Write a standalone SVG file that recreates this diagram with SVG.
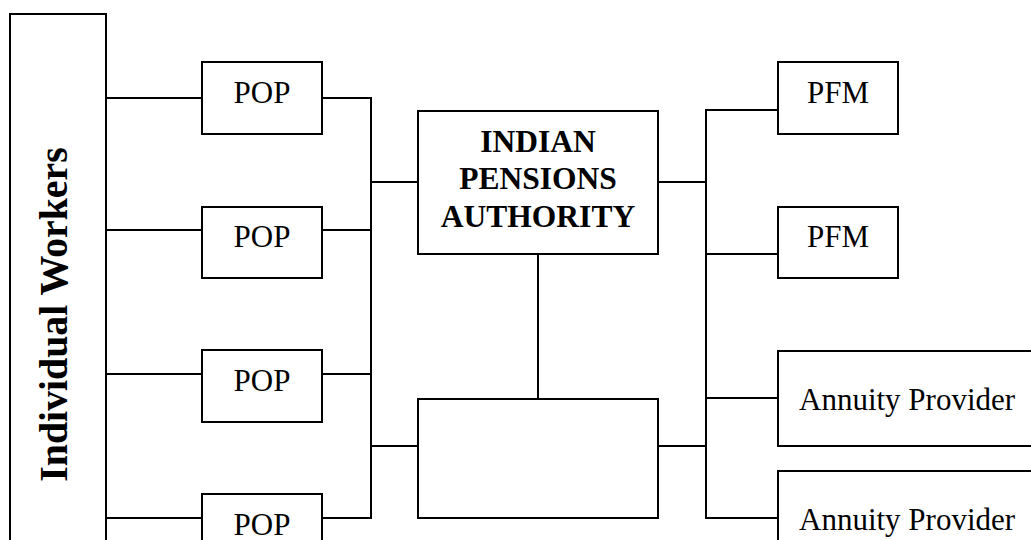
<svg xmlns="http://www.w3.org/2000/svg" width="1031" height="540" viewBox="0 0 1031 540">
<style>
.box{fill:#fff;stroke:#000;stroke-width:2}
.ln{fill:none;stroke:#000;stroke-width:2}
.t{font-family:"Liberation Serif","Times New Roman",serif;font-size:31px;fill:#000}
.b{font-family:"Liberation Serif","Times New Roman",serif;font-size:31.5px;font-weight:bold;fill:#000;text-anchor:middle}
.c{text-anchor:middle}
</style>
<rect width="1031" height="540" fill="#fff"/>
<g id="connectors" class="ln">
<path d="M106 98H202M106 230H202M106 374H202M106 518H202"/>
<path d="M322 98H371M322 230H371M322 374H371M322 518H371M371 97V519"/>
<path d="M371 182H418M371 446H418"/>
<path d="M538 254V399"/>
<path d="M658 182H706M658 446H706"/>
<path d="M706 109V519M706 110H778M706 254H778M706 398H778M706 518H778"/>
</g>
<g id="workers">
<rect class="box" x="10" y="14" width="96" height="560"/>
<text class="b" transform="translate(67,314.5) rotate(-90)" style="font-size:39.8px">Individual Workers</text>
</g>
<g id="pop1"><rect class="box" x="202" y="62" width="120" height="72"/><text class="t c" x="262" y="103">POP</text></g>
<g id="pop2"><rect class="box" x="202" y="207" width="120" height="71"/><text class="t c" x="262" y="247">POP</text></g>
<g id="pop3"><rect class="box" x="202" y="350" width="120" height="72"/><text class="t c" x="262" y="391">POP</text></g>
<g id="pop4"><rect class="box" x="202" y="494" width="120" height="72"/><text class="t c" x="262" y="535">POP</text></g>
<g id="ipa"><rect class="box" x="418" y="111" width="240" height="143"/>
<text class="b" x="538" y="152">INDIAN</text>
<text class="b" x="538" y="189">PENSIONS</text>
<text class="b" x="538" y="227">AUTHORITY</text></g>
<g id="blank"><rect class="box" x="418" y="399" width="240" height="119"/></g>
<g id="pfm1"><rect class="box" x="778" y="62" width="120" height="72"/><text class="t c" x="838" y="103">PFM</text></g>
<g id="pfm2"><rect class="box" x="778" y="207" width="120" height="71"/><text class="t c" x="838" y="247">PFM</text></g>
<g id="annuity1"><rect class="box" x="778" y="351" width="280" height="95"/><text class="t" x="799" y="410">Annuity Provider</text></g>
<g id="annuity2"><rect class="box" x="778" y="471" width="280" height="95"/><text class="t" x="799" y="530">Annuity Provider</text></g>
</svg>
